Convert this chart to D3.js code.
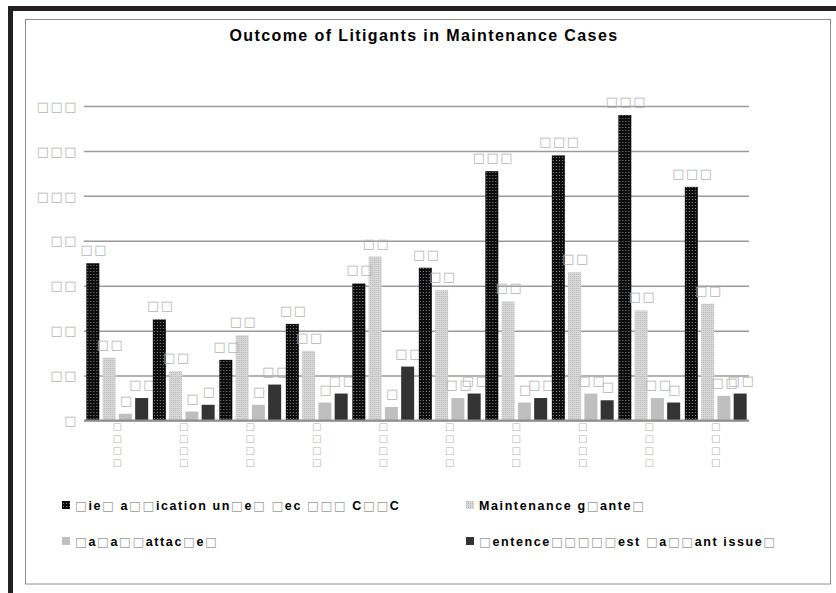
<!DOCTYPE html>
<html>
<head>
<meta charset="utf-8">
<script src="https://cdn.jsdelivr.net/npm/d3@7"></script>
<style>
  body { margin: 0; background: #fff; }
  svg { display: block; }
</style>
</head>
<body>
<div class="canvas"></div>
<script>
// Data (text copied as it shows, missing glyphs kept as boxes)
var title = 'Outcome of Litigants in Maintenance Cases',
    categories = ['c1', 'c2', 'c3', 'c4', 'c5', 'c6', 'c7', 'c8', 'c9', 'c10'],
    categoryLabels = ['□□□□', '□□□□', '□□□□', '□□□□', '□□□□', '□□□□', '□□□□', '□□□□', '□□□□', '□□□□'],
    seriesNames = ['□ie□ a□□ication  un□e□ □ec □□□ C□□C', 'Maintenance g□ante□', '□a□a□□attac□e□', '□entence□□□□□est □a□□ant issue□'],
    filedApplication = [70, 45, 27, 43, 61, 68, 111, 118, 136, 104],
    maintenanceGranted = [28, 22, 38, 31, 73, 58, 53, 66, 49, 52],
    salaryAttached = [3, 4, 7, 8, 6, 10, 8, 12, 10, 11],
    sentenceWarrant = [10, 7, 16, 12, 24, 12, 10, 9, 8, 12],
    yTicks = [0, 20, 40, 60, 80, 100, 120, 140];

var seriesValues = [filedApplication, maintenanceGranted, salaryAttached, sentenceWarrant],
    seriesFills = ['url(#patDark)', 'url(#patLight)', '#bfbfbf', '#333333'];

// Config
var width = 836,
    height = 593,
    plotLeft = 84, plotRight = 749, plotTop = 106, plotBottom = 420.5,
    labelColor = '#b4b4b4',
    gridColor = '#9a9a9a',
    boxFont = 'DejaVu Sans, sans-serif';

// digits came out as boxes in the picture
function tofu(n) { return String(n).replace(/[0-9]/g, '□'); }

var svg = d3.select('.canvas').append('svg')
    .attr('width', width)
    .attr('height', height);

var defs = svg.append('defs');
var p1 = defs.append('pattern').attr('id', 'patDark').attr('patternUnits', 'userSpaceOnUse')
    .attr('width', 3).attr('height', 3);
p1.append('rect').attr('width', 3).attr('height', 3).attr('fill', '#0c0c0c');
p1.append('rect').attr('x', 1).attr('y', 1).attr('width', 1).attr('height', 1).attr('fill', '#8a8a8a');
var p2 = defs.append('pattern').attr('id', 'patLight').attr('patternUnits', 'userSpaceOnUse')
    .attr('width', 2).attr('height', 2);
p2.append('rect').attr('width', 2).attr('height', 2).attr('fill', '#dadada');
p2.append('rect').attr('width', 1).attr('height', 1).attr('fill', '#b4b4b4');

// Frame
svg.append('rect').attr('x', 8).attr('y', 6).attr('width', 828).attr('height', 5).attr('fill', '#231f20');
svg.append('rect').attr('x', 8).attr('y', 6).attr('width', 5).attr('height', 587).attr('fill', '#231f20');
svg.append('rect').attr('x', 25.5).attr('y', 19.5).attr('width', 805).attr('height', 564.5)
    .attr('fill', '#fff').attr('stroke', '#8c8c8c').attr('stroke-width', 1);

svg.append('text')
    .attr('x', 424).attr('y', 41)
    .attr('text-anchor', 'middle')
    .style('font-family', 'Liberation Sans, Arial, sans-serif')
    .style('font-weight', 'bold')
    .style('font-size', '16px')
    .style('letter-spacing', '1.4px')
    .text(title);

// Scales
var y = d3.scaleLinear().domain([0, 140]).range([plotBottom, plotTop]);
var x0 = d3.scaleBand().domain(categories).range([plotLeft, plotRight]).paddingInner(0.07).paddingOuter(0.035);
var x1 = d3.scaleBand().domain(d3.range(4)).range([0, x0.bandwidth()]).paddingInner(0.2);

// Gridlines + y labels
var yAxis = svg.append('g')
    .attr('transform', 'translate(' + plotLeft + ',0)')
    .call(d3.axisLeft(y).tickValues(yTicks).tickSize(-(plotRight - plotLeft)).tickPadding(6).tickFormat(tofu));
yAxis.select('.domain').remove();
yAxis.selectAll('.tick line').attr('stroke', gridColor).attr('stroke-width', 1.5);
yAxis.selectAll('.tick text')
    .attr('fill', labelColor)
    .style('font-family', boxFont)
    .style('font-size', '13px')
    .style('letter-spacing', '1.5px');

// Bars
var groups = svg.selectAll('g.group')
    .data(categories)
    .enter().append('g')
    .attr('class', 'group')
    .attr('transform', function (d) { return 'translate(' + x0(d) + ',0)'; });

function cells(d, i) { return seriesValues.map(function (s, k) { return {k: k, v: s[i]}; }); }

groups.selectAll('rect')
    .data(cells)
    .enter().append('rect')
    .attr('x', function (d) { return x1(d.k); })
    .attr('y', function (d) { return y(d.v); })
    .attr('width', x1.bandwidth())
    .attr('height', function (d) { return y(0) - y(d.v); })
    .attr('fill', function (d) { return seriesFills[d.k]; });

groups.selectAll('text.val')
    .data(cells)
    .enter().append('text')
    .attr('class', 'val')
    .attr('x', function (d) { return x1(d.k) + x1.bandwidth() / 2 + 1.5; })
    .attr('y', function (d) { return y(d.v) - 9; })
    .attr('text-anchor', 'middle')
    .attr('fill', labelColor)
    .style('font-family', boxFont)
    .style('font-size', '13px')
    .style('letter-spacing', '1.5px')
    .text(function (d) { return tofu(d.v); });

// baseline
svg.append('line').attr('x1', plotLeft).attr('x2', plotRight).attr('y1', y(0)).attr('y2', y(0))
    .attr('stroke', '#8f8f8f').attr('stroke-width', 2);

// category labels, one character per line
groups.append('text')
    .attr('fill', labelColor)
    .attr('text-anchor', 'middle')
    .style('font-family', boxFont)
    .style('font-size', '10px')
    .each(function (d, i) {
        var t = d3.select(this);
        categoryLabels[i].split('').forEach(function (c, j) {
            t.append('tspan').attr('x', x0.bandwidth() / 2).attr('y', 430 + j * 12).text(c);
        });
    });

// Legend
var legendPos = [[62, 505], [466, 505], [62, 541], [466, 541]];
var legend = svg.selectAll('g.legend')
    .data(seriesNames)
    .enter().append('g')
    .attr('class', 'legend')
    .attr('transform', function (d, i) { return 'translate(' + legendPos[i][0] + ',' + legendPos[i][1] + ')'; });

legend.append('rect')
    .attr('x', 0).attr('y', -4).attr('width', 8).attr('height', 8)
    .attr('fill', function (d, i) { return seriesFills[i]; });

legend.append('text')
    .attr('x', 13).attr('y', 4.5)
    .style('font-size', '12.5px')
    .style('letter-spacing', '1.6px')
    .each(function (d) {
        var t = d3.select(this);
        // split into runs so the boxes can be grey like in the picture
        (d.match(/□+|[^□]+/g) || []).forEach(function (run) {
            var box = run[0] === '□';
            t.append('tspan')
                .attr('fill', box ? '#9a9a9a' : '#000')
                .style('font-weight', box ? 'normal' : 'bold')
                .style('font-family', box ? boxFont : 'Liberation Sans, Arial, sans-serif')
                .text(run);
        });
    });
</script>
</body>
</html>
